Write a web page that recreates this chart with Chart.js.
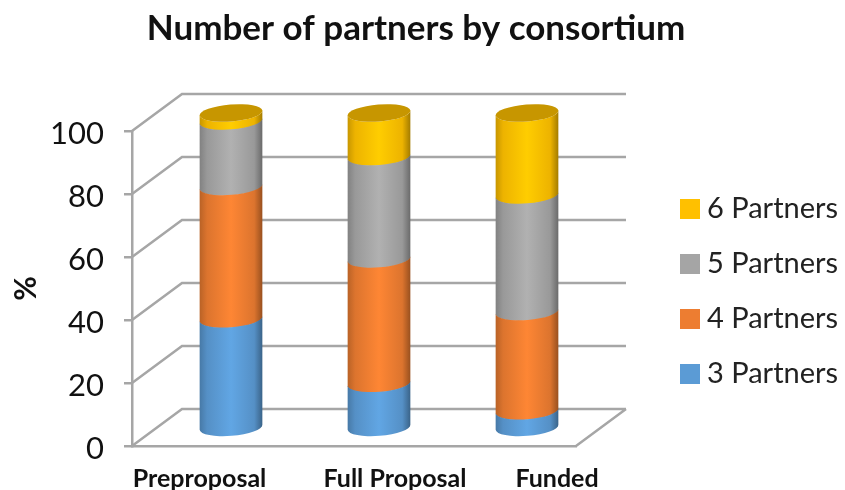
<!DOCTYPE html>
<html lang="en">
<head>
  <meta charset="UTF-8">
  <title>Number of partners by consortium</title>
  <script src="https://cdn.jsdelivr.net/npm/chart.js"></script>
  <style>
    html, body { margin: 0; padding: 0; background: #fff; }
    canvas { display: block; }
  </style>
</head>
<body>
  <canvas id="chart" width="845" height="490"></canvas>

  <script>
    const categories = ['Preproposal', 'Full Proposal', 'Funded'];
    const partners3 = [34.7, 14.2, 5.5];
    const partners4 = [42, 39.5, 31.5];
    const partners5 = [20.8, 32.5, 37];
    const partners6 = [2.5, 13.8, 26];
    const seriesNames = ['3 Partners', '4 Partners', '5 Partners', '6 Partners'];
    const seriesColors = ['#5B9BD5', '#ED7D31', '#A5A5A5', '#FFC000'];

    // 3d look: how far the back wall sits behind the axis plane
    const wallDx = 50, wallDy = 37;
    const barDx = 25, barDy = 18;
    const capRy = 8.5, tilt = -0.08;
    const gridColor = '#a6a6a6';
    // the x labels in the original are not centred under the bars
    const labelShift = [-6.5, 41, 55];

    function shade(hex, k) {
      const n = parseInt(hex.slice(1), 16);
      const c = [n >> 16, (n >> 8) & 255, n & 255].map(v => Math.min(255, Math.round(v * k)));
      return `rgb(${c[0]},${c[1]},${c[2]})`;
    }

    const wallPlugin = {
      id: 'walls',
      beforeDatasetsDraw(chart) {
        const { ctx, scales: { x, y } } = chart;
        ctx.save();
        ctx.strokeStyle = gridColor;
        ctx.lineWidth = 2.5;
        y.ticks.forEach(t => {
          const py = y.getPixelForValue(t.value);
          ctx.beginPath();
          ctx.moveTo(x.left, py);
          ctx.lineTo(x.left + wallDx, py - wallDy);
          ctx.lineTo(x.right + wallDx, py - wallDy);
          if (t.value === 0) {
            ctx.moveTo(x.right, py);
            ctx.lineTo(x.right + wallDx, py - wallDy);
          }
          ctx.stroke();
        });
        ctx.restore();
      }
    };

    const cylinderPlugin = {
      id: 'cylinders',
      beforeDatasetDraw(chart, args) {
        const { ctx } = chart;
        const color = seriesColors[args.index];
        const isTop = args.index === chart.data.datasets.length - 1;
        args.meta.data.forEach(bar => {
          const p = bar.getProps(['x', 'y', 'base', 'width'], true);
          const cx = p.x + barDx, rx = p.width / 2;
          const top = p.y - barDy, bottom = p.base - barDy;

          const g = ctx.createLinearGradient(cx - rx, 0, cx + rx, 0);
          g.addColorStop(0, shade(color, 0.78));
          g.addColorStop(0.12, shade(color, 0.93));
          g.addColorStop(0.5, shade(color, 1.07));
          g.addColorStop(0.87, shade(color, 0.93));
          g.addColorStop(1, shade(color, 0.64));

          ctx.save();
          ctx.fillStyle = g;
          ctx.beginPath();
          ctx.ellipse(cx, top, rx, capRy, tilt, Math.PI, 0, true);
          ctx.ellipse(cx, bottom + 0.6, rx, capRy, tilt, 0, Math.PI, false);
          ctx.closePath();
          ctx.fill();
          if (isTop) {
            ctx.fillStyle = shade(color, 0.78);
            ctx.beginPath();
            ctx.ellipse(cx, top, rx, capRy, tilt, 0, Math.PI * 2);
            ctx.fill();
          }
          ctx.restore();
        });
        return false;
      }
    };

    // legend box size is capped by the layout, force it to what the picture needs
    const layoutPlugin = {
      id: 'layoutTweaks',
      beforeLayout(chart) {
        const legend = chart.legend;
        if (!legend._patched) {
          const fit = legend.fit;
          legend.fit = function () {
            fit.call(this);
            this.width = 183.5;
            this.height = 320;
          };
          legend._patched = true;
        }
      },
      afterLayout(chart) {
        chart.titleBlock.left -= 6.5;
        chart.titleBlock.right -= 6.5;
        chart.legend.top += 46.5;
        chart.legend.bottom += 46.5;
        // Lato sits a bit high against the tick marks
        chart.scales.y.getLabelItems(chart.chartArea).forEach(item => {
          item.options.translation[1] += 3;
        });
      }
    };

    new Chart(document.getElementById('chart'), {
      type: 'bar',
      data: {
        labels: categories,
        datasets: [partners3, partners4, partners5, partners6].map((values, i) => ({
          label: seriesNames[i],
          data: values,
          backgroundColor: seriesColors[i],
          borderColor: seriesColors[i],
          // legend swatch = boxWidth + this stroke, keeps the text close to it
          borderWidth: 15,
          categoryPercentage: 1,
          barPercentage: 0.425
        }))
      },
      plugins: [wallPlugin, cylinderPlugin, layoutPlugin],
      options: {
        responsive: false,
        animation: false,
        scales: {
          x: {
            stacked: true,
            grid: { display: false, drawTicks: false },
            border: { color: gridColor, width: 2.5 },
            ticks: {
              color: '#111',
              font: { family: 'Lato', size: 25, weight: 'bold' },
              padding: 18,
              maxRotation: 0,
              autoSkip: false
            },
            afterFit(scale) {
              scale.height = 44;
              scale.getPixelForTick = i => scale.getPixelForValue(scale.ticks[i].value) + labelShift[i];
            }
          },
          y: {
            stacked: true,
            min: 0,
            max: 100,
            ticks: {
              stepSize: 20,
              color: '#111',
              font: { family: 'Lato', size: 31 },
              padding: 20
            },
            grid: { drawOnChartArea: false, color: gridColor, lineWidth: 2.5, tickLength: 8 },
            border: { color: gridColor, width: 2.5 },
            title: {
              display: true,
              text: '%',
              color: '#111',
              font: { family: 'Lato', size: 30, weight: 'bold' },
              padding: { top: 8, bottom: 0 }
            },
            afterFit(scale) { scale.width = 132; }
          },
          // empty axis, only keeps the gap between the floor and the legend
          gap: {
            position: 'right',
            display: true,
            ticks: { display: false },
            grid: { display: false },
            border: { display: false },
            afterFit(scale) { scale.width = 85.5; }
          }
        },
        plugins: {
          title: {
            display: true,
            text: 'Number of partners by consortium',
            color: '#111',
            font: { family: 'Lato', size: 35, weight: 'bold' },
            padding: { top: 8, bottom: 81 }
          },
          legend: {
            position: 'right',
            reverse: true,
            labels: {
              color: '#222',
              font: { family: 'Lato', size: 29 },
              boxWidth: 5,
              boxHeight: 5,
              padding: 26
            }
          },
          tooltip: { enabled: false }
        }
      }
    });
  </script>
</body>
</html>
